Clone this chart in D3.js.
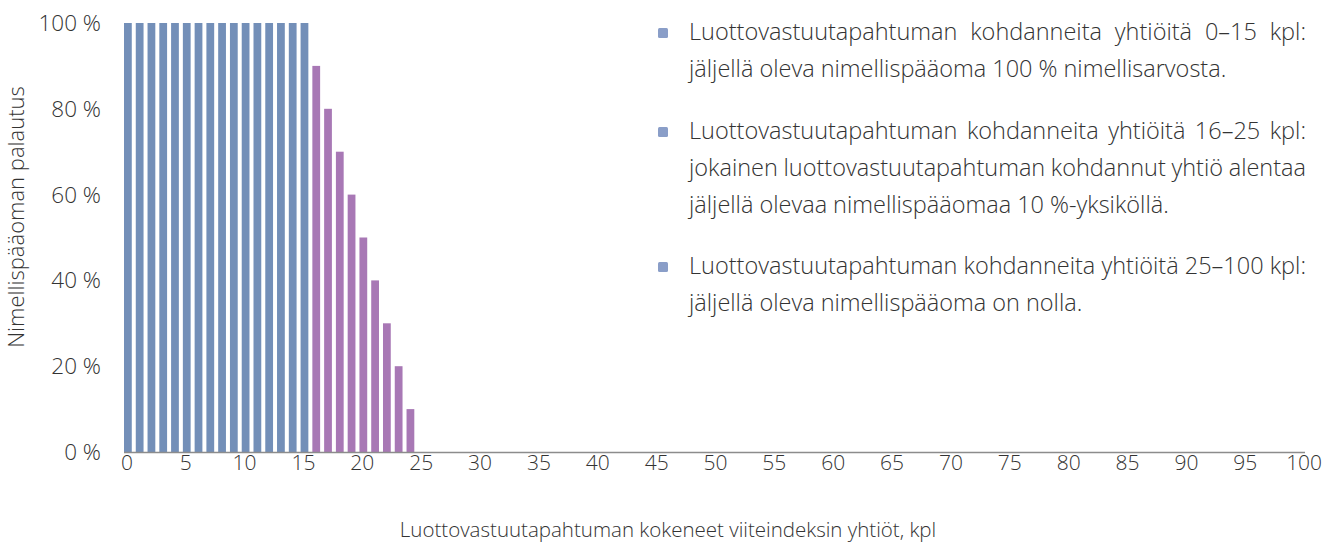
<!DOCTYPE html>
<html>
<head>
<meta charset="utf-8">
<script src="https://cdn.jsdelivr.net/npm/d3@7"></script>
<style>
  body { margin: 0; background: #fff; }
  text { font-family: "Open Sans", sans-serif; font-weight: 300; fill: #333; }
</style>
</head>
<body>
<div id="chart"></div>
<script>
// categories: number of reference companies with a credit event
var counts = d3.range(0, 101);
// remaining principal, % (only first 25 are non-zero)
var principal = [100, 100, 100, 100, 100, 100, 100, 100, 100, 100, 100, 100, 100, 100, 100, 100,
    90, 80, 70, 60, 50, 40, 30, 20, 10];
var yTicks = [0, 20, 40, 60, 80, 100];
var xTicks = d3.range(0, 101, 5);
var legendLines = [
    ['Luottovastuutapahtuman kohdanneita yhtiöitä 0–15 kpl:', 'jäljellä oleva nimellispääoma 100 % nimellisarvosta.'],
    ['Luottovastuutapahtuman kohdanneita yhtiöitä 16–25 kpl:', 'jokainen luottovastuutapahtuman kohdannut yhtiö alentaa', 'jäljellä olevaa nimellispääomaa 10 %-yksiköllä.'],
    ['Luottovastuutapahtuman kohdanneita yhtiöitä 25–100 kpl:', 'jäljellä oleva nimellispääoma on nolla.']
];

var width = 1334, height = 542;
var svg = d3.select('#chart').append('svg')
    .attr('width', width)
    .attr('height', height);

var x = d3.scaleBand()
    .domain(counts)
    .range([124, 1309])
    .paddingInner(0.34)
    .paddingOuter(0);

var y = d3.scaleLinear()
    .domain([0, 100])
    .range([452, 23]);

var data = principal.map(function(v, i) { return { n: i, v: v }; });

svg.append('g')
    .selectAll('rect')
    .data(data)
    .enter()
    .append('rect')
    .attr('x', function(d) { return x(d.n); })
    .attr('y', function(d) { return y(d.v); })
    .attr('width', x.bandwidth())
    .attr('height', function(d) { return y(0) - y(d.v); })
    .attr('fill', function(d) { return d.n <= 15 ? '#738fb8' : '#a878b5'; });

// x axis baseline
svg.append('line')
    .attr('x1', 124)
    .attr('x2', 1305)
    .attr('y1', y(0) + 0.5)
    .attr('y2', y(0) + 0.5)
    .attr('stroke', '#8c8c8c')
    .attr('stroke-width', 1.3);

svg.append('g')
    .selectAll('text')
    .data(xTicks)
    .enter()
    .append('text')
    .attr('x', function(d) { return x(d) + x.bandwidth() / 2 - 1; })
    .attr('y', 470)
    .attr('text-anchor', 'middle')
    .attr('font-size', 21)
    .text(function(d) { return d; });

svg.append('g')
    .selectAll('text')
    .data(yTicks)
    .enter()
    .append('text')
    .attr('x', 101)
    .attr('y', function(d) { return y(d) + 8; })
    .attr('text-anchor', 'end')
    .attr('font-size', 22.5)
    .text(function(d) { return d + ' %'; });

svg.append('text')
    .attr('x', 668)
    .attr('y', 537)
    .attr('text-anchor', 'middle')
    .attr('font-size', 20.5)
    .text('Luottovastuutapahtuman kokeneet viiteindeksin yhtiöt, kpl');

svg.append('text')
    .attr('transform', 'translate(24,217) rotate(-90)')
    .attr('text-anchor', 'middle')
    .attr('font-size', 22)
    .text('Nimellispääoman palautus');

// legend with justified text
var legendX = 689, legendRight = 1306, lineH = 37;
var paraTop = [33, 132, 267];
var legend = svg.append('g');

legendLines.forEach(function(lines, i) {
    legend.append('rect')
        .attr('x', 658)
        .attr('y', paraTop[i] - 5)
        .attr('width', 10)
        .attr('height', 10)
        .attr('rx', 1.5)
        .attr('fill', '#8a9ec8');

    lines.forEach(function(line, j) {
        var words = line.split(' ');
        var ly = paraTop[i] + j * lineH + 7;
        var last = j === lines.length - 1;
        var t = legend.append('text')
            .attr('font-size', 23.5)
            .attr('y', ly);
        var spans = words.map(function(w) {
            return t.append('tspan').attr('y', ly).text(w);
        });
        var widths = spans.map(function(s) { return s.node().getComputedTextLength(); });
        var total = d3.sum(widths);
        var gap = last ? 6 : (legendRight - legendX - total) / (words.length - 1);
        var cx = legendX;
        spans.forEach(function(s, k) {
            s.attr('x', cx);
            cx += widths[k] + gap;
        });
    });
});
</script>
</body>
</html>
